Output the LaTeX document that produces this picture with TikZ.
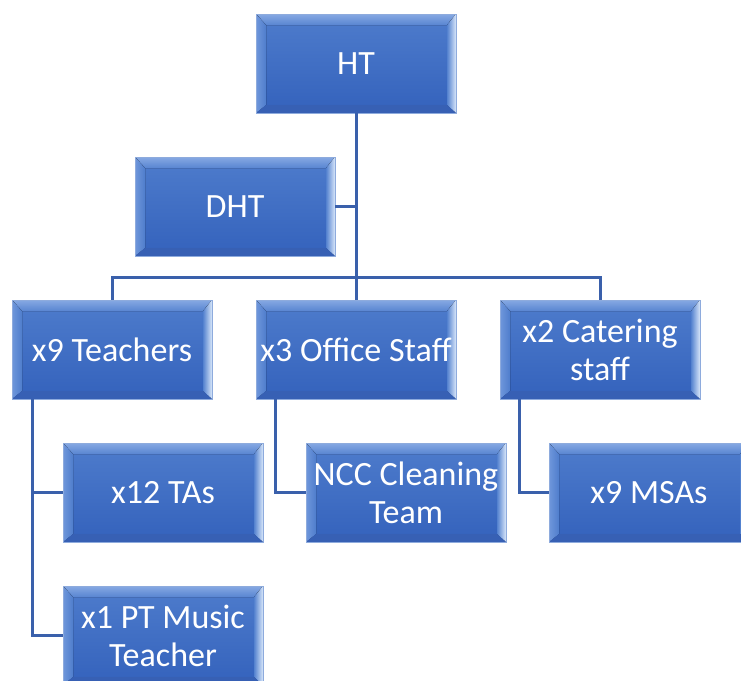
\documentclass[tikz,border=0pt]{standalone}
\usepackage{fontspec}
\newfontfamily\boxfont{Carlito}
\newcommand\boxsetup{\boxfont\fontsize{34}{38}\selectfont\hyphenpenalty=10000\relax\exhyphenpenalty=10000\relax}
\usetikzlibrary{calc}
\definecolor{faceT}{HTML}{4E7CCC}
\definecolor{faceB}{HTML}{3462BC}
\definecolor{edgecol}{HTML}{8EABDD}
\definecolor{bevTa}{HTML}{86A9E3}
\definecolor{bevTb}{HTML}{5985D1}
\definecolor{bevLa}{HTML}{6F97DB}
\definecolor{bevLb}{HTML}{4F7DCC}
\definecolor{bevRa}{HTML}{D9E7FA}
\definecolor{bevRb}{HTML}{5482CF}
\definecolor{bevB}{HTML}{3760B4}
\definecolor{conncol}{HTML}{3A60AB}
\tikzset{
  bevelbox/.style={rectangle, minimum width=200pt, minimum height=99pt, inner sep=0pt,
    text width=200pt, align=flush center, text=white,
    font=\boxsetup,
    top color=faceT, bottom color=faceB, draw=edgecol, line width=0.8pt,
    path picture={
      \coordinate (@nw) at (path picture bounding box.north west);
      \coordinate (@ne) at (path picture bounding box.north east);
      \coordinate (@sw) at (path picture bounding box.south west);
      \coordinate (@se) at (path picture bounding box.south east);
      \fill[top color=bevTa, bottom color=bevTb] (@nw) -- (@ne) -- ([shift={(-9pt,-11pt)}]@ne) -- ([shift={(10pt,-11pt)}]@nw) -- cycle;
      \fill[left color=bevLa, right color=bevLb] (@nw) -- ([shift={(10pt,-11pt)}]@nw) -- ([shift={(10pt,8pt)}]@sw) -- (@sw) -- cycle;
      \fill[left color=bevRb, right color=bevRa] (@ne) -- (@se) -- ([shift={(-9pt,8pt)}]@se) -- ([shift={(-9pt,-11pt)}]@ne) -- cycle;
      \fill[bevB] (@sw) -- ([shift={(10pt,8pt)}]@sw) -- ([shift={(-9pt,8pt)}]@se) -- (@se) -- cycle;
    }},
  conn/.style={draw=conncol, line width=3pt}
}
\begin{document}
\begin{tikzpicture}[x=1pt,y=-1pt]
\useasboundingbox (0,0) rectangle (741,680);
\clip (0,0) rectangle (741,680);
\fill[white] (0,0) rectangle (741,680);
\coordinate (bus) at (356,277);
\node[bevelbox] (HT) at (356,63.5) {HT};
\node[bevelbox] (DHT) at (235,206.5) {DHT};
\node[bevelbox] (teach) at (112,349.5) {x9 Teachers};
\node[bevelbox] (off) at (356,349.5) {x3 Office Staff};
\node[bevelbox] (cat) at (600,349.5) {x2 Catering staff};
\node[bevelbox] (tas) at (163,492.5) {x12 TAs};
\node[bevelbox] (ncc) at (406,492.5) {NCC Cleaning Team};
\node[bevelbox] (msa) at (649,492.5) {x9 MSAs};
\node[bevelbox] (mus) at (163,635.5) {x1 PT Music Teacher};
\draw[conn] (HT.south) -- (off.north);
\draw[conn] (teach.north) |- (bus) -| (cat.north);
\draw[conn] (DHT.east) -- (DHT.east -| HT.south);
\draw[conn] ([xshift=-80pt]teach.south) |- (tas.west);
\draw[conn] ([xshift=-80pt]teach.south) |- (mus.west);
\draw[conn] ([xshift=-81pt]off.south) |- (ncc.west);
\draw[conn] ([xshift=-81pt]cat.south) |- (msa.west);
\end{tikzpicture}
\end{document}
